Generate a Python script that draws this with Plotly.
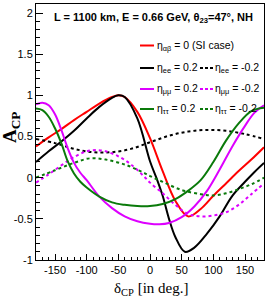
import plotly.graph_objects as go

# ---------------- data ----------------
si_x = [-180, -160, -140, -120, -100, -80, -60, -50, -40, -20, 0, 20, 40, 60, 80, 100, 120, 140, 160, 180]
si_y = [0.38, 0.49, 0.59, 0.70, 0.80, 0.90, 0.98, 1.0, 0.98, 0.80, 0.48, 0.08, -0.28, -0.47, -0.38, -0.22, -0.07, 0.08, 0.22, 0.37]

ee_p_x = [-180, -160, -140, -120, -100, -80, -60, -50, -40, -20, 0, 10, 20, 30, 40, 55, 70, 90, 110, 130, 150, 165, 180]
ee_p_y = [0.19, 0.32, 0.44, 0.57, 0.72, 0.86, 0.97, 1.0, 0.98, 0.72, 0.2, 0.0, -0.22, -0.5, -0.72, -0.9, -0.85, -0.68, -0.47, -0.22, -0.05, 0.07, 0.18]

ee_m_x = [-180, -150, -120, -90, -60, -30, 0, 30, 60, 90, 120, 150, 180]
ee_m_y = [0.47, 0.42, 0.35, 0.31, 0.31, 0.35, 0.43, 0.51, 0.56, 0.58, 0.57, 0.53, 0.47]

mm_p_x = [-180, -170, -160, -150, -140, -130, -120, -110, -100, -80, -60, -40, -20, 0, 15, 30, 50, 70, 90, 110, 130, 150, 165, 180]
mm_p_y = [0.89, 0.91, 0.88, 0.77, 0.58, 0.36, 0.18, 0.06, -0.03, -0.23, -0.37, -0.47, -0.53, -0.56, -0.566, -0.55, -0.48, -0.35, -0.16, 0.1, 0.38, 0.63, 0.79, 0.88]

mm_m_x = [-180, -160, -140, -120, -100, -85, -70, -50, -30, -10, 0, 20, 40, 60, 80, 100, 120, 140, 160, 180]
mm_m_y = [-0.06, 0.04, 0.15, 0.25, 0.32, 0.335, 0.32, 0.26, 0.16, 0.02, -0.06, -0.19, -0.33, -0.44, -0.47, -0.46, -0.42, -0.33, -0.2, -0.07]

tt_p_x = [-180, -170, -160, -150, -140, -130, -120, -110, -100, -80, -60, -40, -20, 0, 20, 40, 60, 80, 100, 120, 140, 160, 180]
tt_p_y = [0.84, 0.82, 0.74, 0.6, 0.42, 0.2, 0.05, -0.05, -0.12, -0.23, -0.3, -0.33, -0.345, -0.345, -0.32, -0.26, -0.16, -0.03, 0.19, 0.45, 0.66, 0.81, 0.85]

tt_m_x = [-180, -150, -120, -95, -70, -40, -10, 0, 20, 50, 80, 100, 120, 140, 160, 180]
tt_m_y = [0.0, 0.09, 0.18, 0.235, 0.22, 0.16, 0.06, 0.02, -0.05, -0.15, -0.2, -0.215, -0.19, -0.14, -0.08, 0.0]

x_ticks = [-150, -100, -50, 0, 50, 100, 150]
x_ticklabels = ["-150", "-100", "-50", "0", "50", "100", "150"]
y_ticks = [-1, -0.5, 0, 0.5, 1, 1.5, 2]
y_ticklabels = ["-1", "-0.5", "0", "0.5", "1", "1.5", "2"]

RED = "#ff0000"
BLACK = "#000000"
MAG = "#dd00ff"
GREEN = "#0a7a0a"

series = [
    (si_x, si_y, RED, "solid"),
    (ee_p_x, ee_p_y, BLACK, "solid"),
    (ee_m_x, ee_m_y, BLACK, "dot"),
    (mm_p_x, mm_p_y, MAG, "solid"),
    (mm_m_x, mm_m_y, MAG, "dot"),
    (tt_p_x, tt_p_y, GREEN, "solid"),
    (tt_m_x, tt_m_y, GREEN, "dot"),
]

fig = go.Figure()
for xs, ys, col, dash in series:
    fig.add_trace(go.Scatter(
        x=xs, y=ys, mode="lines",
        line=dict(color=col, width=2, dash=("3px,3px" if dash == "dot" else "solid"),
                  shape="spline", smoothing=1.0),
        showlegend=False, hoverinfo="skip"))

W, H = 266, 300
ML, MR, MT, MB = 36, 2, 4, 40
PW, PH = W - ML - MR, H - MT - MB

def px(x):
    return (x - ML) / PW

def py(y):
    return 1 - (y - MT) / PH

FONT = "Liberation Sans, Arial, sans-serif"
SERIF = "Liberation Serif, Times New Roman, serif"

shapes = []
annotations = []

# title inside plot
annotations.append(dict(
    x=px(153), y=py(18), xref="paper", yref="paper", xanchor="center", yanchor="middle",
    text="<b>L = 1100 km, E = 0.66 GeV, θ<sub>23</sub>=47°, NH</b>",
    showarrow=False, font=dict(family=FONT, size=11, color="black")))

legend_rows = [
    (45.5, RED, "η<sub>αβ</sub> = 0 (SI case)", None),
    (68, BLACK, "η<sub>ee</sub> = 0.2", "η<sub>ee</sub> = -0.2"),
    (89, MAG, "η<sub>μμ</sub> = 0.2", "η<sub>μμ</sub> = -0.2"),
    (109, GREEN, "η<sub>ττ</sub> = 0.2", "η<sub>ττ</sub> = -0.2"),
]
for yy, col, t1, t2 in legend_rows:
    shapes.append(dict(type="line", xref="paper", yref="paper",
                       x0=px(140), x1=px(154), y0=py(yy), y1=py(yy),
                       line=dict(color=col, width=2)))
    annotations.append(dict(x=px(155), y=py(yy), xref="paper", yref="paper",
                            xanchor="left", yanchor="middle", text=t1, showarrow=False,
                            font=dict(family=FONT, size=10.5, color="black")))
    if t2:
        shapes.append(dict(type="line", xref="paper", yref="paper",
                           x0=px(200), x1=px(213), y0=py(yy), y1=py(yy),
                           line=dict(color=col, width=2, dash="3px,2px")))
        annotations.append(dict(x=px(213), y=py(yy), xref="paper", yref="paper",
                                xanchor="left", yanchor="middle", text=t2, showarrow=False,
                                font=dict(family=FONT, size=10.5, color="black")))

# axis titles
annotations.append(dict(x=px(151), y=py(289), xref="paper", yref="paper",
                        xanchor="center", yanchor="middle",
                        text="δ<sub>CP</sub> [in deg.]", showarrow=False,
                        font=dict(family=SERIF, size=15, color="black")))
annotations.append(dict(x=px(11), y=py(128), xref="paper", yref="paper",
                        xanchor="center", yanchor="middle", textangle=-90,
                        text="<b>A<sub>CP</sub></b>", showarrow=False,
                        font=dict(family=SERIF, size=19, color="black")))

fig.update_layout(
    width=W, height=H,
    margin=dict(l=ML, r=MR, t=MT, b=MB, pad=0),
    paper_bgcolor="white", plot_bgcolor="white",
    shapes=shapes, annotations=annotations,
    showlegend=False,
)
fig.update_xaxes(
    range=[-180, 180], tickvals=x_ticks, ticktext=x_ticklabels,
    ticks="inside", ticklen=6, tickwidth=1, tickcolor="black",
    minor=dict(dtick=10, tick0=0, ticks="inside", ticklen=3, tickcolor="black", showgrid=False),
    showgrid=False, zeroline=False, showline=True, linecolor="black", linewidth=1, mirror=True,
    tickfont=dict(family=FONT, size=11, color="black"),
)
fig.update_yaxes(
    range=[-1, 2.11], tickvals=y_ticks, ticktext=y_ticklabels,
    ticks="inside", ticklen=7, tickwidth=1, tickcolor="black",
    minor=dict(dtick=0.1, tick0=0, ticks="inside", ticklen=4, tickcolor="black", showgrid=False),
    showgrid=False, zeroline=False, showline=True, linecolor="black", linewidth=1, mirror=True,
    tickfont=dict(family=FONT, size=11, color="black"),
)

fig.write_html("out.html", config={"displayModeBar": False},
               post_script="document.body.style.margin='0';document.body.style.overflow='hidden';")
